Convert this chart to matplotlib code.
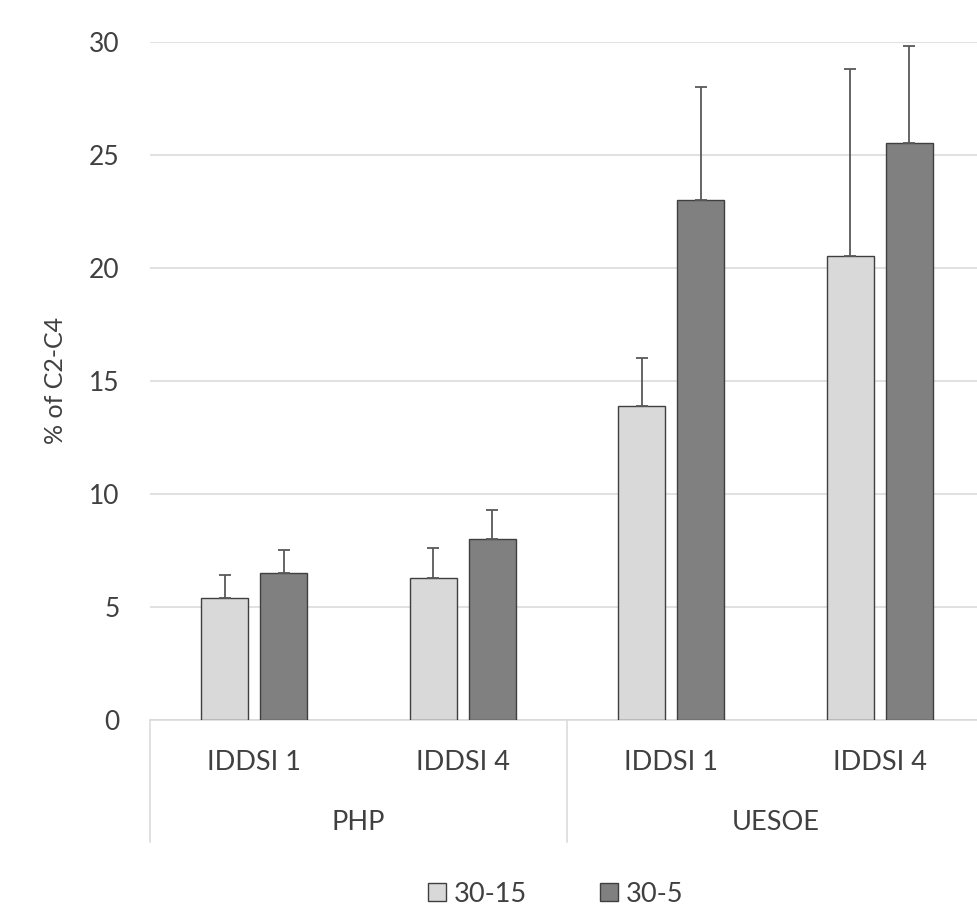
import numpy as np
import matplotlib

matplotlib.use("Agg")
import matplotlib.pyplot as plt
from matplotlib.transforms import blended_transform_factory
from matplotlib.patches import Patch

# ---------------------------------------------------------------- data
CATEGORIES = ["IDDSI 1", "IDDSI 4", "IDDSI 1", "IDDSI 4"]
GROUPS = ["PHP", "UESOE"]
SERIES = ["30-15", "30-5"]
vals_30_15 = [5.4, 6.3, 13.9, 20.5]
err_30_15 = [1.0, 1.3, 2.1, 8.3]
vals_30_5 = [6.5, 8.0, 23.0, 25.5]
err_30_5 = [1.0, 1.3, 5.0, 4.3]
Y_TICKS = [0, 5, 10, 15, 20, 25, 30]

# ---------------------------------------------------------------- style
LIGHT, DARK, EDGE, ERR, GRID, TXT = "#d9d9d9", "#808080", "#3f3f3f", "#595959", "#d9d9d9", "#404040"
plt.rcParams.update({"font.family": ["Lato", "DejaVu Sans"], "text.color": TXT})

W, H = 978, 919
fig = plt.figure(figsize=(W / 100, H / 100), dpi=100)
fig.patch.set_facecolor("white")

left, right, top, bottom = 150, 984, 41.7, 720
ax = fig.add_axes([left / W, 1 - bottom / H, (right - left) / W, (bottom - top) / H])

x = np.arange(len(CATEGORIES))
bw, off = 0.225, 0.142
ax.bar(x - off, vals_30_15, bw, color=LIGHT, edgecolor=EDGE, linewidth=1.0, zorder=3)
ax.bar(x + off, vals_30_5, bw, color=DARK, edgecolor=EDGE, linewidth=1.0, zorder=3)
zeros = np.zeros(len(x))
ax.errorbar(x - off, vals_30_15, yerr=[zeros, err_30_15], fmt="none", ecolor=ERR,
            elinewidth=1.3, capsize=4.5, capthick=1.3, zorder=4)
ax.errorbar(x + off, vals_30_5, yerr=[zeros, err_30_5], fmt="none", ecolor=ERR,
            elinewidth=1.3, capsize=4.5, capthick=1.3, zorder=4)

ax.set_xlim(-0.5, len(x) - 0.5)
ax.set_ylim(0, 30)
ax.set_yticks(Y_TICKS)
ax.yaxis.grid(True, color=GRID, linewidth=1.1, zorder=0)
ax.set_axisbelow(True)
ax.tick_params(axis="y", length=0, pad=22, labelsize=19, labelcolor=TXT)
ax.set_xticks([])
for s in ["top", "right", "left"]:
    ax.spines[s].set_visible(False)
ax.spines["bottom"].set_color(GRID)
ax.spines["bottom"].set_linewidth(1.1)
ax.set_ylabel("% of C2-C4", fontsize=18, labelpad=16, color=TXT)

# multi-level category axis
tr = blended_transform_factory(ax.transData, fig.transFigure)
y_lvl1 = 1 - 762 / H
y_lvl2 = 1 - 822 / H
y_end = 1 - 842 / H
for xi, lab in zip(x, CATEGORIES):
    ax.text(xi, y_lvl1, lab, transform=tr, ha="center", va="center", fontsize=19.5, color=TXT)
for gi, g in enumerate(GROUPS):
    ax.text(2 * gi + 0.5, y_lvl2, g, transform=tr, ha="center", va="center", fontsize=19.5, color=TXT)
for xs in [-0.5, 1.5, 3.5]:
    ax.plot([xs, xs], [1 - bottom / H, y_end], transform=tr, color=GRID, lw=1.1, clip_on=False)

handles = [Patch(facecolor=LIGHT, edgecolor=EDGE, linewidth=1.0),
           Patch(facecolor=DARK, edgecolor=EDGE, linewidth=1.0)]
fig.legend(handles, SERIES, loc="center", bbox_to_anchor=(556 / W, 1 - 894 / H), ncol=2,
           frameon=False, fontsize=19.5, handlelength=0.65, handleheight=0.65,
           handletextpad=0.3, columnspacing=2.7)

fig.savefig("out.png", dpi=100, facecolor="white")
